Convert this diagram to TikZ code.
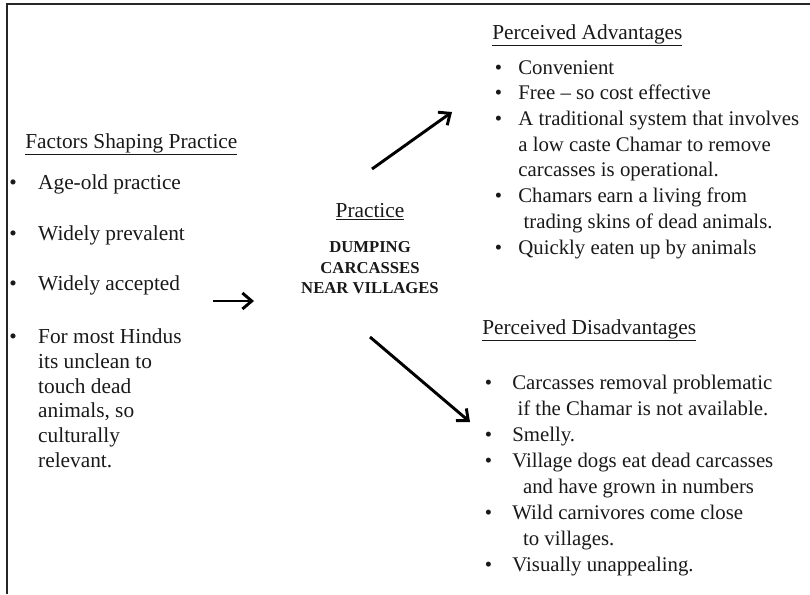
\documentclass[tikz,border=0pt]{standalone}
\usepackage{fontspec}
\setmainfont{Liberation Serif}
\usetikzlibrary{arrows.meta,positioning}
\tikzstyle{flow}=[line width=2.2pt, -{Straight Barb[length=7pt,width=12pt]}]
\tikzstyle{frame}=[line width=1.6pt, draw=black!85]
\tikzstyle{heading}=[inner sep=0pt, text=black!90, font=\fontsize{16}{19}\selectfont]
\tikzstyle{list}=[inner sep=0pt, text=black!90]

\begin{document}
\begin{tikzpicture}[x=0.75pt,y=-0.75pt]
  \useasboundingbox (0,0) rectangle (810,594);
  \draw[frame] (7,594) |- (810,4);

    % left column
    \node (Fac) [heading, anchor=base west] at (25,148)
      {\underline{Factors Shaping Practice}};

    \node (FacList) [list, anchor=base west] at (9,189) {%
      \fontsize{16}{18.6}\selectfont
      \begin{tabular}[t]{@{}p{21.7pt}@{}l@{}}
        \textbullet & Age-old practice\\[20pt]
        \textbullet & Widely prevalent\\[19pt]
        \textbullet & Widely accepted\\[21pt]
        \textbullet & For most Hindus\\
        & its unclean to\\
        & touch dead\\
        & animals, so\\
        & culturally\\
        & relevant.
      \end{tabular}};

    % middle
    \node (Prac) [heading, anchor=base] at (370,217) {\underline{Practice}};

    \node (Dump) [list, below=16pt of Prac, align=center,
                  font=\fontsize{12.5}{15.4}\selectfont\bfseries] {
      DUMPING\\
      CARCASSES\\
      NEAR VILLAGES
    };

    % right column
    \node (Adv) [heading, anchor=base west] at (492,39)
      {\underline{Perceived Advantages}};

    \node (AdvList) [list, anchor=base west] at (494.5,74) {%
      \fontsize{15.6}{19.3}\selectfont
      \begin{tabular}[t]{@{}p{17.7pt}@{}l@{}}
        \textbullet & Convenient\\
        \textbullet & Free -- so cost effective\\
        \textbullet & A traditional system that involves\\
        & a low caste Chamar to remove\\
        & carcasses is operational.\\
        \textbullet & Chamars earn a living from\\
        & \ trading skins of dead animals.\\
        \textbullet & Quickly eaten up by animals
      \end{tabular}};

    \node (Dis) [heading, anchor=base west] at (482,334)
      {\underline{Perceived Disadvantages}};

    \node (DisList) [list, anchor=base west] at (484.5,389) {%
      \fontsize{15.6}{19.5}\selectfont
      \begin{tabular}[t]{@{}p{20.7pt}@{}l@{}}
        \textbullet & Carcasses removal problematic\\
        & \ if the Chamar is not available.\\
        \textbullet & Smelly.\\
        \textbullet & Village dogs eat dead carcasses\\
        & \hspace{8pt}and have grown in numbers\\
        \textbullet & Wild carnivores come close\\
        & \hspace{8pt}to villages.\\
        \textbullet & Visually unappealing.
      \end{tabular}};

    % arrows
    \coordinate (FacOut) at (213,301);
    \coordinate (PracIn) at (254,301);
    \coordinate (PracUp) at (372,169);
    \coordinate (AdvIn) at (452,112);
    \coordinate (PracDown) at (370,337);
    \coordinate (DisIn) at (470,422);

    \draw[flow] (FacOut) -- (PracIn);
    \draw[flow] (PracUp) -- (AdvIn);
    \draw[flow] (PracDown) -- (DisIn);

\end{tikzpicture}
\end{document}
